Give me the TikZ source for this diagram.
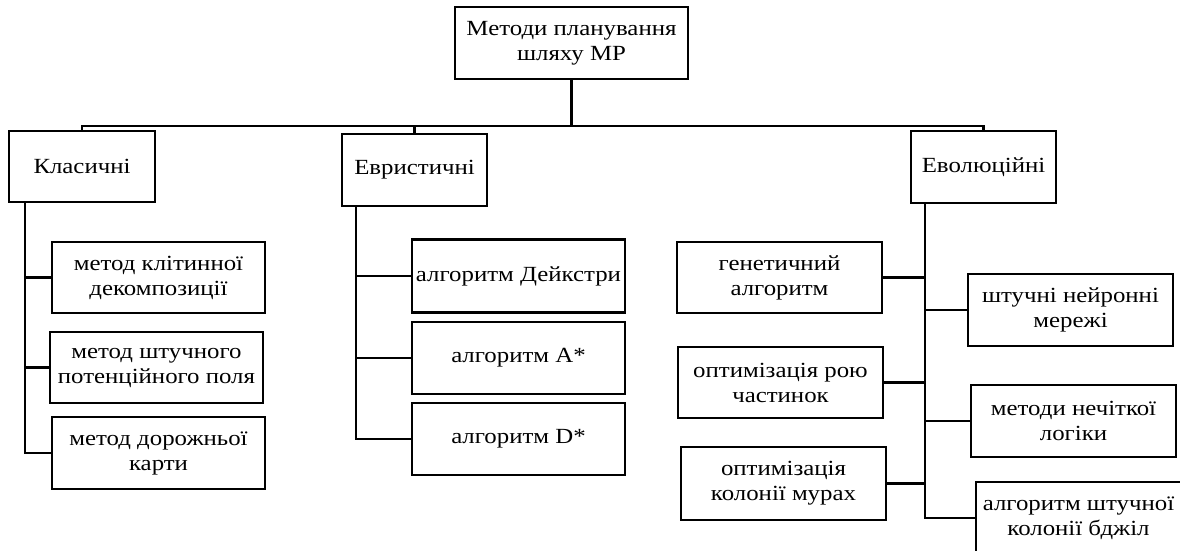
\documentclass[tikz,border=0pt]{standalone}
\usepackage{fontspec}
\setmainfont{Liberation Serif}[FakeStretch=1.15]
\begin{document}
\begin{tikzpicture}[x=1pt,y=-1pt,
  box/.style={draw=black, line width=2.6pt, fill=white, rectangle, align=center, inner sep=0pt,
    font=\fontsize{21.6}{25}\selectfont},
  link/.style={draw=black, line width=2.4pt}]
\clip (0,0) rectangle (1180,551);
\fill[white] (0,0) rectangle (1180,551);
% root
\node[box, minimum width=233pt, minimum height=72pt] (top) at (571.5,43) {Методи планування\\шляху МР};
% categories
\node[box, minimum width=146pt, minimum height=71pt] (kl) at (82,166.5) {Класичні};
\node[box, minimum width=145pt, minimum height=72pt] (ev) at (414.5,170) {Евристичні};
\node[box, minimum width=145pt, minimum height=72pt] (evo) at (983.5,167) {Еволюційні};
% classical
\node[box, minimum width=213pt, minimum height=71pt] (k1) at (158.5,277.5) {метод клітинної\\декомпозиції};
\node[box, minimum width=213pt, minimum height=71pt] (k2) at (156.5,367.5) {метод штучного\\потенційного поля};
\node[box, minimum width=213pt, minimum height=72pt] (k3) at (158.5,453) {метод дорожньої\\карти};
% heuristic
\node[box, minimum width=213pt, minimum height=73pt] (e1) at (518.5,276) {алгоритм Дейкстри};
\node[box, minimum width=213pt, minimum height=72pt] (e2) at (518.5,358) {алгоритм A*};
\node[box, minimum width=213pt, minimum height=72pt] (e3) at (518.5,439) {алгоритм D*};
% evolutionary left
\node[box, minimum width=205pt, minimum height=71pt] (g1) at (779.5,277.5) {генетичний\\алгоритм};
\node[box, minimum width=205pt, minimum height=71pt] (g2) at (780.5,382.5) {оптимізація рою\\частинок};
\node[box, minimum width=205pt, minimum height=73pt] (g3) at (783.5,483.5) {оптимізація\\колонії мурах};
% evolutionary right
\node[box, minimum width=205pt, minimum height=72pt] (r1) at (1070.5,310) {штучні нейронні\\мережі};
\node[box, minimum width=205pt, minimum height=72pt] (r2) at (1073.5,421) {методи нечіткої\\логіки};
\node[box, minimum width=205pt, minimum height=72pt] (r3) at (1078.5,518) {алгоритм штучної\\колонії бджіл};
% coordinates for trunks
\coordinate (bus) at (571.5,126);
\coordinate (klt) at (25,202);
\coordinate (evt) at (356,206);
\coordinate (evot) at (925,203);
% root connectors
\draw[link] (top.south) -- (bus);
\draw[link] (kl.north) -- (kl.north |- bus) -- (evo.north |- bus) -- (evo.north);
\draw[link] (ev.north) -- (ev.north |- bus);
% classical
\draw[link] (klt) |- (k3.west);
\draw[link] (klt |- k1.west) -- (k1.west);
\draw[link] (klt |- k2.west) -- (k2.west);
% heuristic
\draw[link] (evt) |- (e3.west);
\draw[link] (evt |- e1.west) -- (e1.west);
\draw[link] (evt |- e2.west) -- (e2.west);
% evolutionary
\draw[link] (evot) |- (r3.west);
\draw[link] (g1.east) -- (evot |- g1.east);
\draw[link] (g2.east) -- (evot |- g2.east);
\draw[link] (g3.east) -- (evot |- g3.east);
\draw[link] (evot |- r1.west) -- (r1.west);
\draw[link] (evot |- r2.west) -- (r2.west);
\end{tikzpicture}
\end{document}
